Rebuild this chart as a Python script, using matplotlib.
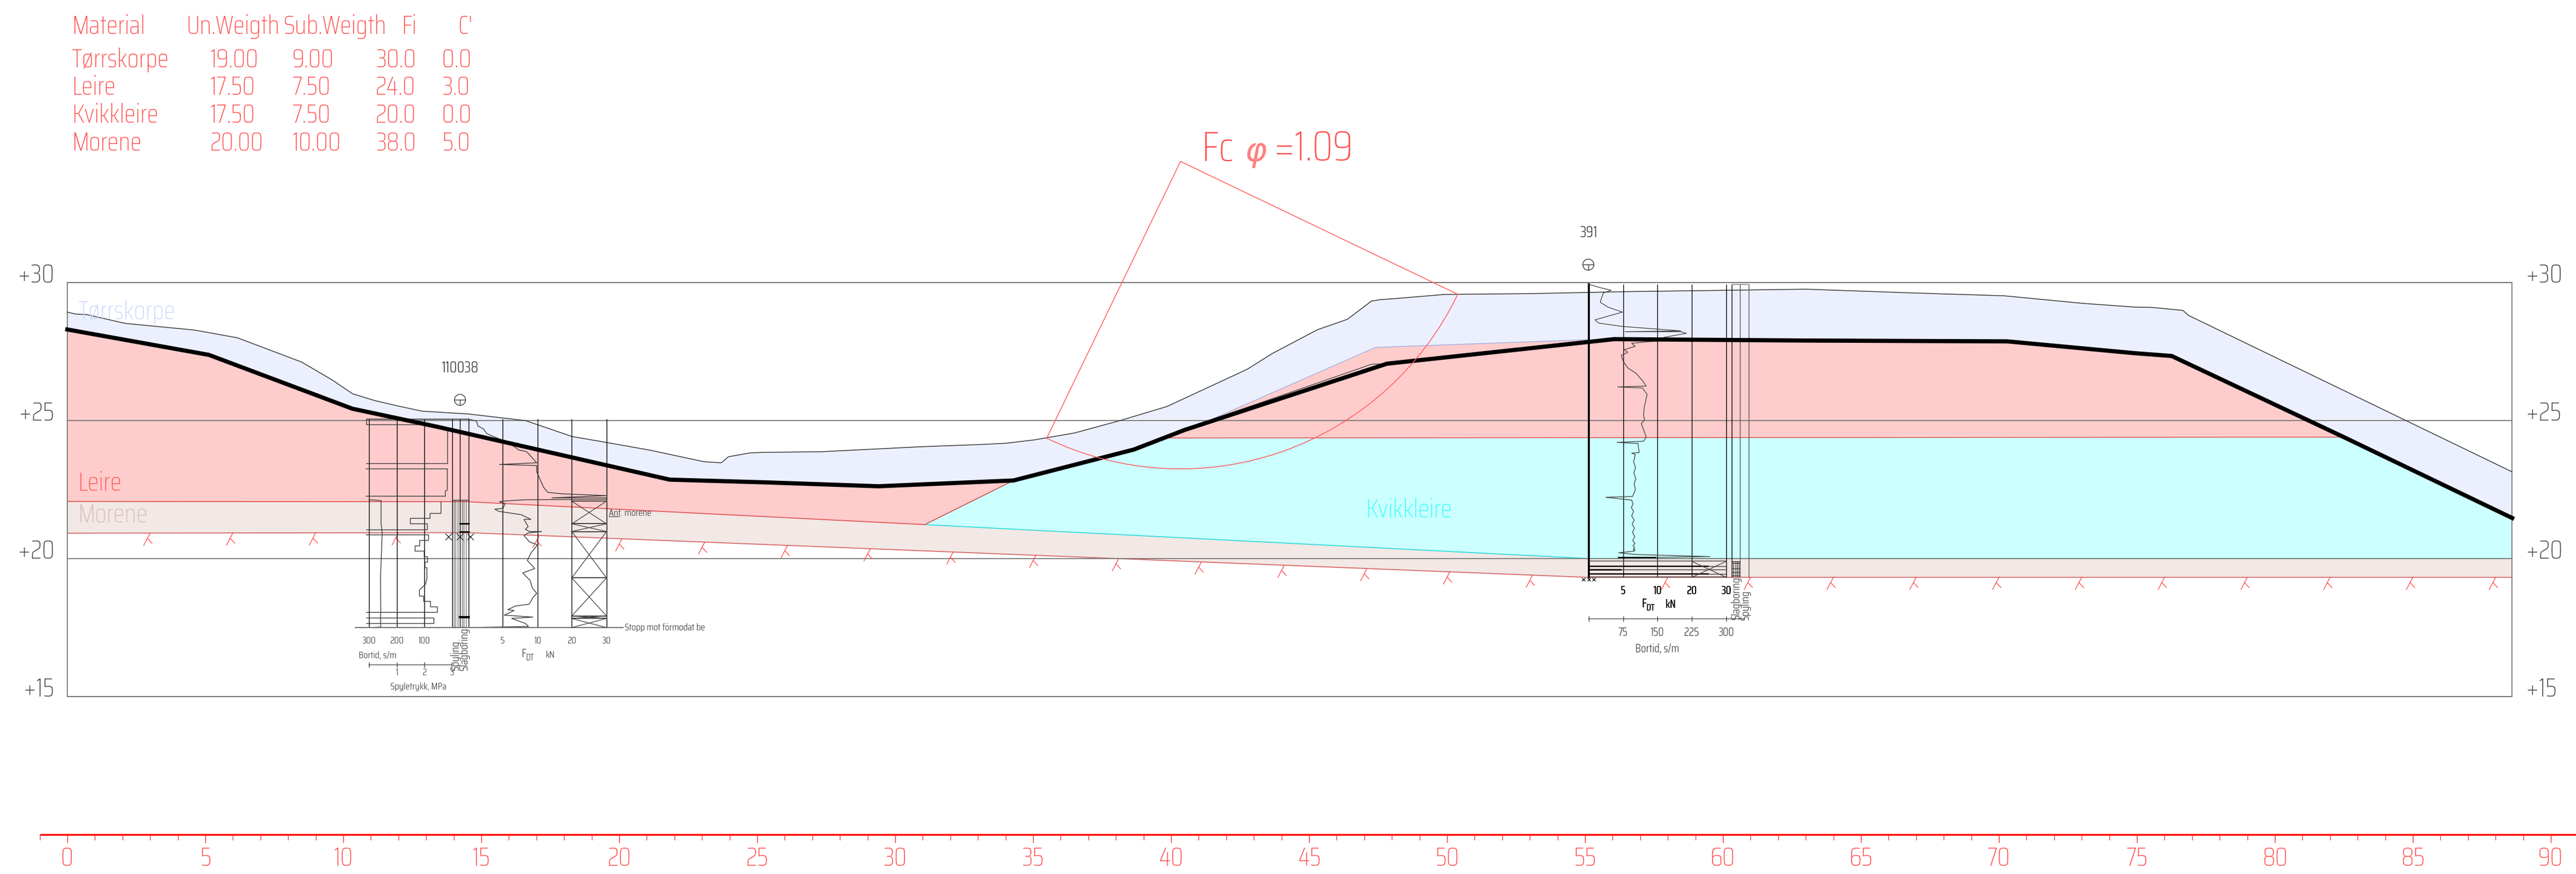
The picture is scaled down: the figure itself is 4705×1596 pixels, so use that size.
import numpy as np
from matplotlib import pyplot as plt, patches

plt.rcParams['font.family'] = ['Saira Condensed', 'Liberation Sans', 'DejaVu Sans']
plt.rcParams['font.weight'] = 250

# Terrain and layers, profile metre / elevation
ground_x = [0, 0.29, 0.7, 2.1, 4.6, 6.16, 8.49, 9.6, 10.34, 11.12, 11.93, 12.86, 14.52, 16.6, 18.3, 19.58, 21.1,
            23.07, 23.7, 23.96, 24.75, 25.3, 27.3, 30.9, 33.27, 34.03, 35.04, 36.5, 38.15, 39.85, 42.76, 43.65,
            45.3, 46.39, 47.26, 47.57, 48.13, 49.91, 53.1, 56.4, 63.0, 67.0, 70.2, 73.0, 74.94, 75.55, 76.67,
            76.87, 88.6]
ground_y = [28.93, 28.86, 28.84, 28.52, 28.28, 28.0, 27.12, 26.47, 25.97, 25.73, 25.54, 25.34, 25.24, 25.0, 24.42,
            24.2, 23.93, 23.51, 23.47, 23.69, 23.83, 23.85, 23.87, 24.05, 24.14, 24.18, 24.3, 24.55, 25.0, 25.51,
            26.86, 27.42, 28.29, 28.67, 29.33, 29.38, 29.42, 29.57, 29.6, 29.67, 29.76, 29.62, 29.52, 29.25, 29.11,
            29.1, 28.99, 28.81, 23.14]
crust_x = [0, 5.13, 10.33, 13.43, 21.83, 25.34, 29.4, 34.29, 38.65, 40.49, 47.82, 53.1, 56.05, 63.0, 70.3, 74.94,
           76.26, 82.5, 88.6]
crust_y = [28.3, 27.38, 25.43, 24.77, 22.86, 22.76, 22.62, 22.83, 23.95, 24.66, 27.06, 27.63, 27.95, 27.9, 27.87,
           27.44, 27.34, 24.4, 21.47]
morene_top_x = [0, 14.52, 55.13, 88.6]
morene_top_y = [22.07, 22.06, 20.0, 20.0]
morene_bot_x = [0, 14.5, 55.1, 88.6]
morene_bot_y = [20.92, 20.94, 19.32, 19.32]
leire_west_x = [34.29, 31.07]
leire_west_y = [22.83, 21.23]
leire_east_top_x = [39.9, 40.49, 41.37, 47.4, 53.1, 55.1, 56.05, 63.0, 70.3, 74.94, 76.26, 82.5]
leire_east_top_y = [24.36, 24.66, 25.0, 27.65, 27.86, 27.93, 27.95, 27.9, 27.87, 27.44, 27.34, 24.4]
remnant_x = [41.37, 47.26, 47.82]
remnant_y = [25.0, 27.04, 27.06]
kvikk_top_y = 24.37

# Slip circle
circle_x, circle_y, circle_r = 40.34, 34.39, 11.14
circle_from, circle_to = 244.2, 334.4

root_x = [3, 6, 9, 12, 17.1, 20.1, 23.1, 26.1, 29.1, 32.1, 35.1, 38.1, 41.1, 44.1, 47.1, 50.1, 53.1, 58, 61, 64,
          67, 70, 73, 76, 79, 82, 85, 88]

# Material table
table_head = ['Material', 'Un.Weigth', 'Sub.Weigth', 'Fi', "C'"]
materials = ['Tørrskorpe', 'Leire', 'Kvikkleire', 'Morene']
un_weight = ['19.00', '17.50', '17.50', '20.00']
sub_weight = ['9.00', '7.50', '7.50', '10.00']
fi = ['30.0', '24.0', '20.0', '38.0']
cohesion = ['0.0', '3.0', '0.0', '5.0']

# Borehole 110038
bh1_verticals = [10.94, 11.94, 12.93, 13.94, 14.23, 14.54, 15.78, 17.04, 18.28, 19.54]
bortid1_x = [10.83, 14.53, 14.53, 10.83, 10.83, 12.93]
bortid1_y = [25.06, 25.06, 25.06, 25.06, 24.86, 24.86]
bortid1_a_x = [13.77, 13.77, 10.83]
bortid1_a_y = [24.70, 23.45, 23.45]
bortid1_b_x = [10.83, 13.77, 13.77, 13.70, 13.70, 10.83]
bortid1_b_y = [23.25, 23.25, 22.48, 22.45, 22.26, 22.26]
bortid1_c_x = [13.54, 13.54, 13.13, 13.13, 12.43, 12.43, 13.03, 13.03, 10.83]
bortid1_c_y = [22.06, 21.65, 21.65, 21.46, 21.46, 21.26, 21.26, 21.06, 21.06]
bortid1_d_x = [10.83, 13.09, 13.09, 12.77, 12.77, 12.60, 12.60, 12.93, 12.93, 13.05, 13.05, 12.96, 12.96, 13.03,
               13.03, 12.98, 12.76, 12.76, 12.91, 12.91, 13.16, 13.16, 13.41, 13.41, 10.84]
bortid1_d_y = [20.86, 20.86, 20.66, 20.66, 20.46, 20.46, 20.27, 20.27, 20.07, 20.07, 19.87, 19.87, 19.67, 19.67,
               19.27, 19.07, 18.86, 18.64, 18.64, 18.45, 18.45, 18.25, 18.25, 18.05, 18.05]
bortid1_e_x = [10.84, 13.28, 13.28, 10.84]
bortid1_e_y = [17.85, 17.85, 17.65, 17.65]
spyle1_x = [10.94, 11.37, 11.37, 11.41, 11.35, 11.36, 11.35, 11.36, 10.93]
spyle1_y = [22.13, 22.10, 21.26, 20.93, 19.34, 18.02, 17.92, 17.52, 17.5]
fdt1_x = [14.53, 14.83, 14.88, 15.08, 15.20, 16.04, 16.35, 16.65, 17.01, 15.66, 17.01, 17.01, 17.26, 17.41, 17.87,
          19.54, 17.56, 19.54, 19.54, 16.55, 15.79, 15.66, 15.86, 15.79, 15.49, 15.64, 16.45, 16.80, 16.55, 16.70,
          16.60, 16.75, 17.19, 16.70, 16.55, 16.75, 17.04, 16.80, 16.67, 16.94, 16.50, 16.77, 16.85, 17.01, 16.87,
          16.74, 16.24, 15.96, 16.19, 15.83, 16.87, 16.10, 16.6, 16.71, 14.5]
fdt1_y = [25.06, 24.98, 24.80, 24.70, 24.53, 24.17, 23.94, 23.87, 23.47, 23.41, 23.37, 23.14, 22.58, 22.40, 22.35,
          22.28, 22.20, 22.20, 22.15, 22.13, 22.08, 22.06, 21.99, 21.82, 21.79, 21.71, 21.59, 21.42, 21.42, 21.16,
          21.06, 20.98, 20.98, 20.93, 20.83, 20.60, 20.50, 20.20, 19.93, 19.64, 19.48, 19.21, 18.94, 18.74, 18.58,
          18.35, 18.28, 18.15, 18.12, 17.95, 17.88, 17.83, 17.65, 17.54, 17.5]
cross1_edges = [22.08, 21.26, 20.98, 19.30, 17.92, 17.83, 17.5]
hatch1_x = [14.0, 14.07, 14.14, 14.30, 14.37, 14.44]

# Borehole 391
bh2_verticals = [56.38, 57.62, 58.87, 60.12, 60.32]
fdt2_x = [55.13, 55.53, 55.95, 55.66, 55.55, 55.83, 56.36, 55.36, 55.50, 56.36, 58.47, 56.45, 58.47, 58.67, 57.88,
          57.68, 56.69, 56.82, 56.42, 56.55, 56.31, 56.39, 56.55, 56.85, 57.08, 57.22, 56.19, 57.08, 57.25, 57.15,
          57.12, 57.16, 57.04, 57.22, 57.12, 56.16, 56.92, 56.96, 56.69, 56.82, 56.76, 56.83, 56.77, 56.84, 56.78,
          56.83, 56.72, 55.75, 56.69, 56.74, 56.68, 56.76, 56.69, 56.78, 56.71, 56.79, 56.72, 56.80, 56.73, 56.81,
          56.74, 56.80, 56.75, 56.82, 56.76, 56.79, 56.22, 56.82, 59.53, 56.22]
fdt2_y = [29.94, 29.82, 29.72, 29.62, 29.29, 29.11, 28.93, 28.65, 28.53, 28.41, 28.25, 28.22, 28.22, 28.16, 28.02,
          27.89, 27.80, 27.69, 27.57, 27.47, 27.36, 27.14, 26.91, 26.71, 26.45, 26.25, 26.22, 26.18, 25.95, 25.49,
          25.22, 25.03, 24.89, 24.40, 24.25, 24.21, 24.17, 23.84, 23.82, 23.77, 23.5, 23.3, 23.1, 22.9, 22.7, 22.5,
          22.25, 22.22, 22.12, 21.98, 21.85, 21.7, 21.55, 21.4, 21.25, 21.1, 20.95, 20.8, 20.65, 20.55, 20.47, 20.4,
          20.35, 20.32, 20.3, 20.27, 20.21, 20.15, 20.07, 20.03]
bh2_hatch_y = [19.92, 19.72, 19.60, 19.44, 19.34]
slag2_x = [60.38, 60.45, 60.51, 60.57]
slag2_y = [19.85, 19.65, 19.5, 19.38]

ruler_major = np.arange(0, 95, 5)
ruler_minor = np.arange(-1, 93, 1)
elevations = [30, 25, 20, 15]

RED = '#ff5050'
GREY = '#777777'
DARK = '#3a3a3a'

fig = plt.figure(figsize=(47.05, 15.96), dpi=100)
ax = fig.add_axes([0, 0, 1, 1])
ax.set_xlim(-123 / 50.4, (4705 - 123) / 50.4)
ax.set_ylim(20 - (1596 - 1020) / 50.4, 20 + 1020 / 50.4)
ax.axis('off')


def poly(xs, ys, color, z=1):
    ax.fill(xs, ys, color=color, lw=0, zorder=z)


def text(x, y, s, size, color=DARK, ha='left', va='baseline', **kw):
    ax.text(x, y, s, fontsize=size, color=color, ha=ha, va=va, zorder=9, **kw)


def small(x, y, s, size=13, color=DARK, ha='center', weight=300, **kw):
    text(x, y, s, size, color, ha=ha, va='center', weight=weight, **kw)


# layers
poly(ground_x + crust_x[::-1], ground_y + crust_y[::-1], '#ecf0fe')
west_top = [p for p in zip(crust_x, crust_y) if p[0] <= 34.29]
poly([p[0] for p in west_top] + [31.07] + [14.52, 0],
     [p[1] for p in west_top] + [21.23] + [22.06, 22.07], '#ffcccc')
poly(leire_east_top_x, leire_east_top_y, '#ffcccc')
kvikk_x = [31.07, 34.29, 38.65, 39.9, 82.5, 88.6, 88.6, 55.13]
kvikk_y = [21.23, 22.83, 23.95, kvikk_top_y, kvikk_top_y + 0.03, 21.47, 20.0, 20.0]
poly(kvikk_x, kvikk_y, '#ccffff')
poly(morene_top_x + morene_bot_x[::-1], morene_top_y + morene_bot_y[::-1], '#f2e8e5')

# layer borders
ax.plot([0, 14.52, 31.07], [22.07, 22.06, 21.23], color='#e05a5a', lw=1.3, zorder=3)
ax.plot([31.07, 55.13, 88.6], [21.23, 20.0, 20.0], color='#33dddd', lw=1.3, zorder=3)
ax.plot(morene_bot_x, morene_bot_y, color='#d86a6a', lw=1.3, zorder=3)
ax.plot(leire_west_x, leire_west_y, color='#cc4444', lw=1.1, zorder=3)
ax.plot([39.9, 82.5], [kvikk_top_y, kvikk_top_y + 0.03], color='#dd5555', lw=1.1, zorder=3)
ax.plot([41.37, 47.4, 53.1, 55.1], [25.0, 27.65, 27.86, 27.93], color='#9fb0e0', lw=1, zorder=3)
ax.plot(remnant_x, remnant_y, color=DARK, lw=0.9, zorder=3)

# frame and elevation lines
ax.add_patch(patches.Rectangle((0, 15), 88.6, 15, fill=False, ec=GREY, lw=1.3, zorder=4))
for el in elevations:
    ax.plot([0, 88.6], [el, el], color=GREY, lw=1.3, zorder=4)
    text(-0.47, el, '+%d' % el, 34, '#444444', ha='right')
    text(89.1, el, '+%d' % el, 34, '#444444')

# terrain
ax.plot(ground_x, ground_y, color=DARK, lw=1.1, zorder=5)
ax.plot(crust_x, crust_y, color='black', lw=5.5, solid_joinstyle='miter', zorder=7)

# roots below the moraine
for rx in root_x:
    ry = np.interp(rx, morene_bot_x, morene_bot_y)
    ax.plot([rx, rx - 0.1, rx - 0.23], [ry, ry - 0.19, ry - 0.44], color='#ff4040', lw=0.9, zorder=5)
    ax.plot([rx - 0.1, rx + 0.07], [ry - 0.19, ry - 0.37], color='#ff4040', lw=0.9, zorder=5)

# slip circle
ax.add_patch(patches.Wedge((circle_x, circle_y), circle_r, circle_from, circle_to, fill=False, ec='#ff5c5c',
                           lw=1.1, zorder=8))
text(41.1, 34.41, 'Fc', 56, RED)
text(42.65, 34.41, 'φ', 44, '#ff8080', family='DejaVu Sans', style='italic', weight='normal')
text(43.71, 34.41, '=1.09', 56, RED)

# borehole 110038
ax.vlines(bh1_verticals, 17.5, 25.06, color='black', lw=1.0, zorder=6)
for xs, ys in [(bortid1_x, bortid1_y), (bortid1_a_x, bortid1_a_y), (bortid1_b_x, bortid1_b_y),
               (bortid1_c_x, bortid1_c_y), (bortid1_d_x, bortid1_d_y), (bortid1_e_x, bortid1_e_y),
               (spyle1_x, spyle1_y)]:
    ax.plot(xs, ys, color=DARK, lw=1.0, zorder=6)
ax.plot(fdt1_x, fdt1_y, color=DARK, lw=1.0, zorder=6)
ax.plot([10.43, 20.14], [17.5, 17.5], color=GREY, lw=1.5, zorder=6)
ax.vlines(hatch1_x, 17.5, 22.13, color=DARK, lw=0.6, zorder=6)
ax.plot([13.94, 14.54], [22.13, 22.13], color=DARK, lw=1, zorder=6)
ax.plot([14.23, 14.54], [21.26, 21.26], color='black', lw=2, zorder=6)
ax.plot([14.23, 14.54], [20.98, 20.98], color='black', lw=2, zorder=6)
ax.plot([14.23, 14.54], [17.88, 17.88], color='black', lw=3, zorder=6)
ax.plot([13.8, 14.23, 14.6], [20.8, 20.8, 20.8], 'x', color='black', ms=8, mew=0.8, zorder=6)
for top, bot in zip(cross1_edges[:-1], cross1_edges[1:]):
    ax.plot([18.28, 19.54], [top, top], color=DARK, lw=1.3, zorder=6)
    ax.plot([18.28, 19.54], [top, bot], color=DARK, lw=0.9, zorder=6)
    ax.plot([18.28, 19.54], [bot, top], color=DARK, lw=0.9, zorder=6)

ax.add_patch(patches.Circle((14.23, 25.75), 0.2, fill=False, ec=DARK, lw=1, zorder=6))
ax.plot([14.03, 14.43], [25.75, 25.75], color=DARK, lw=1, zorder=6)
ax.plot([14.23, 14.23], [25.75, 25.55], color=DARK, lw=1, zorder=6)
small(14.23, 26.9, '110038', 20)
small(20.2, 17.5, 'Stopp mot förmodat be', 13, ha='left')
text(19.63, 21.55, 'Ant. morene', 13, weight=300)
ax.plot([19.63, 20.0], [21.52, 21.52], color=DARK, lw=0.8, zorder=6)

for xt, lab in zip([10.93, 11.94, 12.93], ['300', '200', '100']):
    small(xt, 17.02, lab)
for xt, lab in zip([15.78, 17.04, 18.28, 19.54], ['5', '10', '20', '30']):
    small(xt, 17.02, lab)
small(11.25, 16.51, 'Bortid, s/m')
small(16.55, 16.55, 'F', 15)
small(16.78, 16.4, 'DT', 12)
small(17.5, 16.5, 'kN')
ax.plot([10.93, 13.93], [16.15, 16.15], color=GREY, lw=1.3, zorder=6)
ax.vlines([10.93, 11.94, 12.93, 13.93], 16.05, 16.25, color=DARK, lw=0.9, zorder=6)
for xt, lab in zip([11.94, 12.93, 13.93], ['1', '2', '3']):
    small(xt, 15.87, lab)
small(12.73, 15.36, 'Spyletrykk, MPa')
small(14.07, 16.47, 'Spyling', 15, rotation=90)
small(14.38, 16.72, 'Slagboring', 15, rotation=90)

# borehole 391
ax.plot([55.13, 55.13], [19.32, 29.95], color='black', lw=2.6, zorder=6)
ax.vlines(bh2_verticals, 19.32, 29.95, color='black', lw=1.0, zorder=6)
ax.vlines([60.62, 60.93], 19.32, 29.95, color='#555555', lw=1.0, zorder=6)
ax.plot([60.32, 60.93], [29.95, 29.95], color=GREY, lw=1.0, zorder=6)
ax.plot(fdt2_x, fdt2_y, color=DARK, lw=0.9, zorder=6)
ax.hlines(bh2_hatch_y, 55.13, 60.12, color=DARK, lw=1.0, zorder=6)
ax.plot([56.22, 57.55], [20.03, 20.03], color='black', lw=1.6, zorder=6)
ax.plot([55.13, 56.29], [19.60, 19.60], color='black', lw=1.8, zorder=6)
ax.plot([55.13, 59.46], [19.72, 19.72], color='black', lw=1.6, zorder=6)
ax.plot([55.13, 59.46], [19.44, 19.44], color='black', lw=1.6, zorder=6)
ax.plot([58.87, 60.12], [19.32, 19.9], color=DARK, lw=0.9, zorder=6)
ax.plot([58.87, 60.12], [19.9, 19.32], color=DARK, lw=0.9, zorder=6)
ax.vlines(slag2_x, 19.32, 19.9, color=DARK, lw=0.9, zorder=6)
ax.hlines(slag2_y + [19.9], 60.32, 60.62, color=DARK, lw=0.9, zorder=6)
ax.plot([54.95, 55.13, 55.32], [19.24, 19.24, 19.24], 'x', color='black', ms=5, mew=0.9, zorder=6)

ax.add_patch(patches.Circle((55.12, 30.65), 0.2, fill=False, ec=DARK, lw=1, zorder=6))
ax.plot([54.92, 55.32], [30.65, 30.65], color=DARK, lw=1, zorder=6)
ax.plot([55.12, 55.12], [30.65, 30.45], color=DARK, lw=1, zorder=6)
small(55.13, 31.8, '391', 20)

for xt, lab in zip(bh2_verticals[:4], ['5', '10', '20', '30']):
    small(xt, 18.83, lab, 15, 'black', weight=500)
small(57.15, 18.36, 'F', 16, 'black', weight=500)
small(57.38, 18.22, 'DT', 13, 'black', weight=500)
small(58.1, 18.33, 'kN', 15, 'black', weight=500)
ax.plot([55.13, 60.75], [17.82, 17.82], color=GREY, lw=1.3, zorder=6)
ax.vlines([55.13] + bh2_verticals[:4], 17.72, 17.92, color=DARK, lw=0.9, zorder=6)
for xt, lab in zip(bh2_verticals[:4], ['75', '150', '225', '300']):
    small(xt, 17.32, lab, 15)
small(57.62, 16.73, 'Bortid, s/m', 15)
small(60.47, 18.55, 'Slagboring', 15, rotation=90)
small(60.82, 18.31, 'Spyling', 15, rotation=90)

# layer names
text(0.39, 28.67, 'Tørrskorpe', 34, '#ccd8ff')
text(0.37, 22.47, 'Leire', 34, '#ff5a5a')
text(0.37, 21.3, 'Morene', 34, '#d9bdb5')
text(47.04, 21.49, 'Kvikkleire', 34, '#33ffff')

# material table
head_x = [0.16, 4.31, 7.82, 12.1, 14.17]
for xt, lab in zip(head_x, table_head):
    text(xt, 39.01, lab, 34, RED)
for yt, row in zip([37.8, 36.8, 35.8, 34.79], zip(materials, un_weight, sub_weight, fi, cohesion)):
    for xt, lab in zip([0.16, 5.16, 8.15, 11.17, 13.57], row):
        text(xt, yt, lab, 34, RED)

# ruler
ax.plot([-1, 91.5], [10, 10], color='#ff0000', lw=2.4, solid_capstyle='butt', zorder=4)
ax.vlines(ruler_minor, 9.8, 10, color='#ff2020', lw=0.9, zorder=4)
ax.vlines(ruler_major, 9.7, 10, color='#ff2020', lw=0.9, zorder=4)
for xt in ruler_major:
    text(xt, 8.87, str(xt), 34, RED, ha='center')

fig.savefig('out.png', dpi=100)
